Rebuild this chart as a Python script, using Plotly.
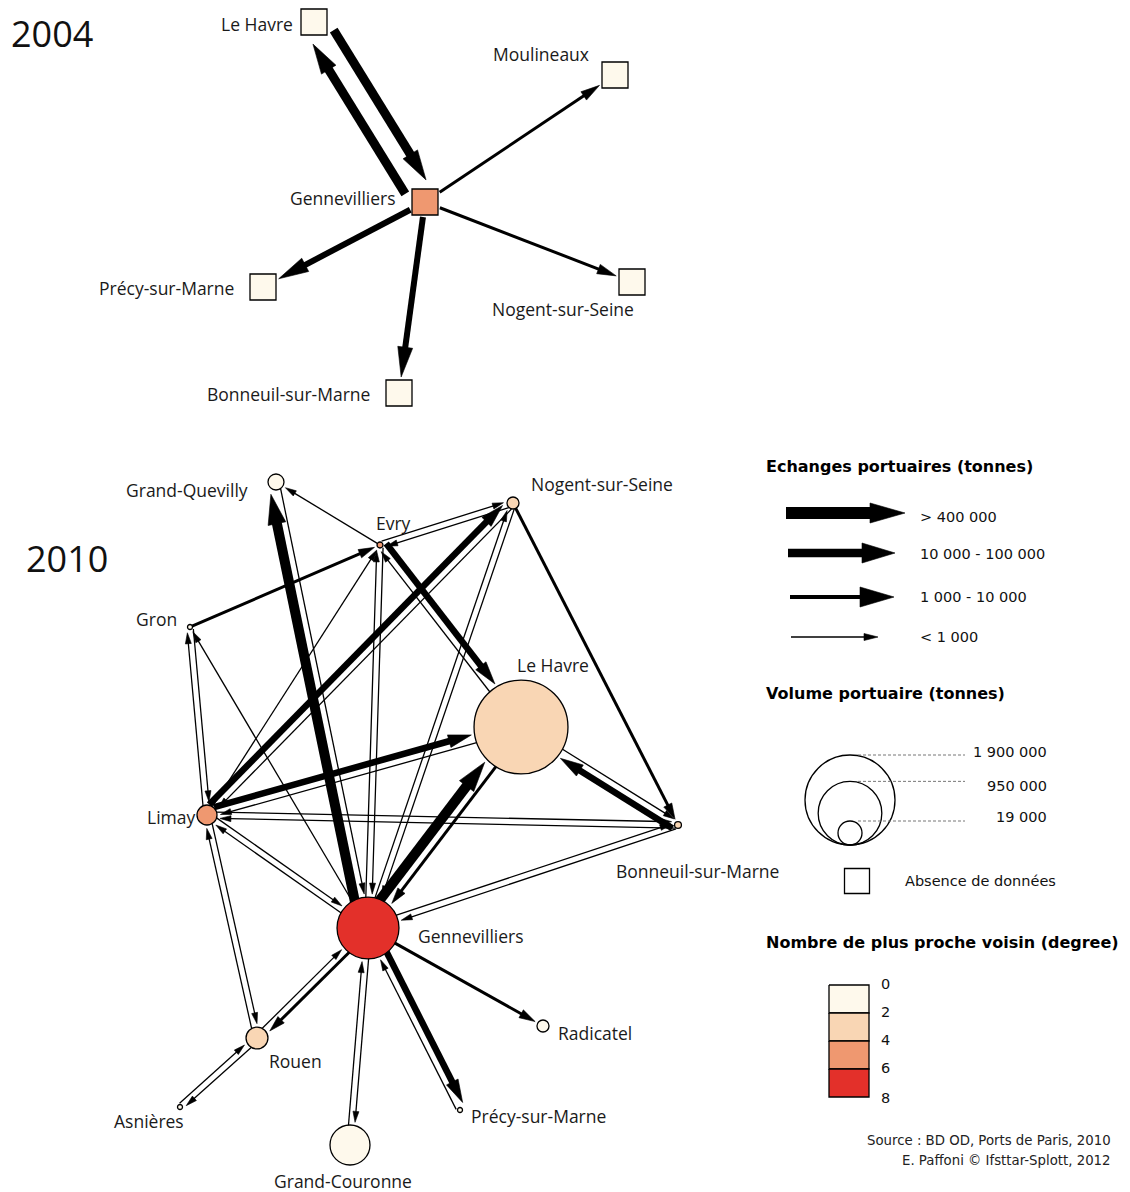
import math
import plotly.graph_objects as go

# ------------------------------------------------------------------ data
CLASS_LABELS = ["< 1 000", "1 000 - 10 000", "10 000 - 100 000", "> 400 000"]
DEGREE_BREAKS = [0, 2, 4, 6, 8]
DEGREE_COLORS = ["#fef9ec", "#f9d6b4", "#ef9870", "#e3302a"]
VOLUME_LEGEND = [1900000, 950000, 19000]
VOLUME_LEGEND_LABELS = ["1 900 000", "950 000", "19 000"]

# 2004 network (no volume data -> squares)
nodes04_name = ["Le Havre", "Moulineaux", "Gennevilliers", "Précy-sur-Marne",
                "Nogent-sur-Seine", "Bonneuil-sur-Marne"]
nodes04_x = [314, 615, 425, 263, 632, 399]
nodes04_y = [22, 75, 202, 287, 282, 393]
nodes04_degree = [1, 1, 5, 1, 1, 1]
edges04_src = ["Le Havre", "Gennevilliers", "Gennevilliers", "Gennevilliers",
               "Gennevilliers", "Gennevilliers"]
edges04_dst = ["Gennevilliers", "Le Havre", "Moulineaux", "Précy-sur-Marne",
               "Nogent-sur-Seine", "Bonneuil-sur-Marne"]
edges04_class = [3, 3, 1, 2, 1, 2]

# 2010 network
nodes10_name = ["Grand-Quevilly", "Nogent-sur-Seine", "Evry", "Gron", "Le Havre",
                "Limay", "Bonneuil-sur-Marne", "Gennevilliers", "Rouen",
                "Radicatel", "Asnières", "Précy-sur-Marne", "Grand-Couronne"]
nodes10_x = [276, 513, 380, 190, 521, 207, 678, 368, 257, 543, 180, 460, 350]
nodes10_y = [482, 503, 545, 627, 727, 815, 825, 928, 1038, 1026, 1107, 1110, 1145]
nodes10_volume = [60000, 34000, 8400, 5900, 2070000, 94000, 11000, 900000,
                  113000, 34000, 5900, 5900, 375000]
nodes10_degree = [1, 3, 5, 1, 3, 5, 3, 7, 3, 1, 1, 1, 1]

edges10_src = ["Gennevilliers", "Grand-Quevilly", "Evry", "Gron", "Evry",
               "Nogent-sur-Seine", "Evry", "Le Havre", "Limay", "Nogent-sur-Seine",
               "Gennevilliers", "Nogent-sur-Seine", "Nogent-sur-Seine", "Limay",
               "Gennevilliers", "Evry", "Gron", "Limay", "Gennevilliers", "Limay",
               "Le Havre", "Limay", "Bonneuil-sur-Marne", "Limay", "Gennevilliers",
               "Limay", "Rouen", "Gennevilliers", "Le Havre", "Le Havre",
               "Bonneuil-sur-Marne", "Gennevilliers", "Bonneuil-sur-Marne",
               "Gennevilliers", "Rouen", "Rouen", "Asnières", "Gennevilliers",
               "Grand-Couronne", "Gennevilliers", "Précy-sur-Marne", "Gennevilliers"]
edges10_dst = ["Grand-Quevilly", "Gennevilliers", "Grand-Quevilly", "Evry",
               "Nogent-sur-Seine", "Evry", "Le Havre", "Evry", "Nogent-sur-Seine",
               "Limay", "Nogent-sur-Seine", "Gennevilliers", "Bonneuil-sur-Marne",
               "Evry", "Evry", "Gennevilliers", "Limay", "Gron", "Gron", "Le Havre",
               "Limay", "Bonneuil-sur-Marne", "Limay", "Gennevilliers", "Limay",
               "Rouen", "Limay", "Le Havre", "Gennevilliers", "Bonneuil-sur-Marne",
               "Le Havre", "Bonneuil-sur-Marne", "Gennevilliers", "Rouen",
               "Gennevilliers", "Asnières", "Rouen", "Grand-Couronne",
               "Gennevilliers", "Précy-sur-Marne", "Gennevilliers", "Radicatel"]
edges10_class = [3, 0, 0, 1, 0, 0, 2, 0, 2, 0, 0, 0, 1, 0, 0, 0, 0, 0, 0, 2, 0,
                 0, 0, 0, 0, 0, 0, 3, 1, 0, 2, 0, 0, 1, 0, 0, 0, 0, 0, 2, 0, 1]

# ------------------------------------------------------------------ styles
W, H = 1130, 1192
MAP_STYLE = {0: (1.3, 6, 11), 1: (3, 9, 16), 2: (6.5, 13, 23), 3: (10, 18, 30)}
MAP04_STYLE = {0: (1.3, 6, 11), 1: (3, 10, 19), 2: (6, 15, 30), 3: (9, 17, 30)}
LEGEND_STYLE = {0: (1.5, 7, 14), 1: (4, 20, 34), 2: (8.5, 20, 33), 3: (12, 20, 35)}
LABEL_FONT = dict(family="Open Sans, Noto Sans, sans-serif", size=17.5, color="#1a1a1a")
LEG_FONT = dict(family="DejaVu Sans, Verdana, sans-serif", size=14.5, color="#111")
R_SCALE = 45 / math.sqrt(VOLUME_LEGEND[0])


def radius(v):
    return R_SCALE * math.sqrt(v)


def degree_color(d):
    for i in range(len(DEGREE_COLORS)):
        if d < DEGREE_BREAKS[i + 1] or i == len(DEGREE_COLORS) - 1:
            return DEGREE_COLORS[i]


def arrow(x0, y0, x1, y1, d0, d1, style, offset):
    w, hw, hl = style
    dx, dy = x1 - x0, y1 - y0
    L = math.hypot(dx, dy)
    ux, uy = dx / L, dy / L
    nx, ny = uy, -ux
    sx, sy = x0 + ux * d0 + nx * offset, y0 + uy * d0 + ny * offset
    tx, ty = x1 - ux * d1 + nx * offset, y1 - uy * d1 + ny * offset
    bx, by = tx - ux * hl, ty - uy * hl
    shaft = ([sx, bx + ux * 1.5], [sy, by + uy * 1.5])
    head = ([tx, bx + nx * hw / 2, bx - nx * hw / 2, tx],
            [ty, by + ny * hw / 2, by - ny * hw / 2, ty])
    return shaft, head


def add_arrows(fig, arrows_by_class, widths):
    hx, hy = [], []
    for c in sorted(arrows_by_class):
        xs, ys = [], []
        for shaft, head in arrows_by_class[c]:
            xs += shaft[0] + [None]
            ys += shaft[1] + [None]
            hx += head[0] + [None]
            hy += head[1] + [None]
        fig.add_trace(go.Scatter(x=xs, y=ys, mode="lines",
                                 line=dict(color="black", width=widths[c]),
                                 hoverinfo="skip", showlegend=False))
    fig.add_trace(go.Scatter(x=hx, y=hy, mode="lines", fill="toself",
                             fillcolor="black", line=dict(color="black", width=0.6),
                             hoverinfo="skip", showlegend=False))


def network_arrows(names, xs, ys, src, dst, cls, dist_fn, gap, styles):
    idx = {n: i for i, n in enumerate(names)}
    pairs = set(zip(src, dst))
    out = {}
    for s, t, c in zip(src, dst, cls):
        i, j = idx[s], idx[t]
        style = styles[c]
        off = style[0] / 2 + gap if (t, s) in pairs else 0
        dx, dy = xs[j] - xs[i], ys[j] - ys[i]
        L = math.hypot(dx, dy)
        u = (dx / L, dy / L)
        a = arrow(xs[i], ys[i], xs[j], ys[j], dist_fn(i, u, True), dist_fn(j, u, False),
                  style, off)
        out.setdefault(c, []).append(a)
    return out


fig = go.Figure()
annotations = []


def text(x, y, s, font, anchor="left", yanchor="middle"):
    annotations.append(dict(x=x, y=y, text=s, showarrow=False, xanchor=anchor,
                            yanchor=yanchor, font=font, xref="x", yref="y"))


# ------------------------------------------------------------------ 2004
SQ = 26


def sq_dist(i, u, start):
    return (SQ / 2) / max(abs(u[0]), abs(u[1])) + (2 if start else 3)


arr04 = network_arrows(nodes04_name, nodes04_x, nodes04_y, edges04_src, edges04_dst,
                       edges04_class, sq_dist, 8, MAP04_STYLE)
add_arrows(fig, arr04, {c: MAP04_STYLE[c][0] for c in MAP04_STYLE})
fig.add_trace(go.Scatter(
    x=nodes04_x, y=nodes04_y, mode="markers", hoverinfo="skip", showlegend=False,
    marker=dict(symbol="square", size=SQ, opacity=1,
                color=[degree_color(d) for d in nodes04_degree],
                line=dict(color="black", width=1.3))))

lab04 = {"Le Havre": (-19, 2, "right"), "Moulineaux": (-74, -21, "center"),
         "Gennevilliers": (-27, -4, "right"), "Précy-sur-Marne": (-27, 1, "right"),
         "Nogent-sur-Seine": (-69, 27, "center"), "Bonneuil-sur-Marne": (-27, 1, "right")}
for n, x, y in zip(nodes04_name, nodes04_x, nodes04_y):
    dx, dy, an = lab04[n]
    text(x + dx, y + dy, n, LABEL_FONT, an)

# ------------------------------------------------------------------ 2010
r10 = [radius(v) for v in nodes10_volume]


def circ_dist(i, u, start):
    return r10[i] * (0.9 if start else 1.0) + (0 if start else 3)


arr10 = network_arrows(nodes10_name, nodes10_x, nodes10_y, edges10_src, edges10_dst,
                       edges10_class, circ_dist, 2.5, MAP_STYLE)
add_arrows(fig, arr10, {c: MAP_STYLE[c][0] for c in MAP_STYLE})
fig.add_trace(go.Scatter(
    x=nodes10_x, y=nodes10_y, mode="markers", hoverinfo="skip", showlegend=False,
    marker=dict(symbol="circle", size=[2 * r for r in r10], opacity=1,
                color=[degree_color(d) for d in nodes10_degree],
                line=dict(color="black", width=1.3))))

lab10 = {"Grand-Quevilly": (-26, 8, "right"), "Nogent-sur-Seine": (16, -19, "left"),
         "Evry": (13, -22, "center"), "Gron": (-11, -8, "right"),
         "Le Havre": (32, -62, "center"), "Limay": (-10, 2, "right"),
         "Bonneuil-sur-Marne": (-64, 46, "left"), "Gennevilliers": (48, 8, "left"),
         "Rouen": (10, 23, "left"), "Radicatel": (13, 7, "left"),
         "Asnières": (-31, 14, "center"), "Précy-sur-Marne": (9, 6, "left"),
         "Grand-Couronne": (-7, 36, "center")}
for n, x, y in zip(nodes10_name, nodes10_x, nodes10_y):
    dx, dy, an = lab10[n]
    text(x + dx, y + dy, n, LABEL_FONT, an)

YEAR_FONT = dict(family="Open Sans, Noto Sans, sans-serif", size=36, color="#111")
text(9, 33, "2004", YEAR_FONT)
text(24, 558, "2010", YEAR_FONT)

# ------------------------------------------------------------------ legend
BOLD = dict(family="DejaVu Sans, Verdana, sans-serif", size=16, color="#000")
text(764, 466, "<b>Echanges portuaires (tonnes)</b>", BOLD)
leg_rows = [(3, 786, 905, 513, 517), (2, 788, 895, 553, 554),
            (1, 790, 894, 597, 597), (0, 791, 878, 637, 637)]
leg_arrows = {}
for c, xs_, xt, ya, yt in leg_rows:
    leg_arrows.setdefault(c, []).append(arrow(xs_, ya, xt, ya, 0, 0, LEGEND_STYLE[c], 0))
    text(918, yt, CLASS_LABELS[c], LEG_FONT)
add_arrows(fig, leg_arrows, {c: LEGEND_STYLE[c][0] for c in LEGEND_STYLE})

text(764, 693, "<b>Volume portuaire (tonnes)</b>", BOLD)
base_y, cx = 845, 850
lab_y = [752, 786, 817]
for v, lbl, ly in zip(VOLUME_LEGEND, VOLUME_LEGEND_LABELS, lab_y):
    r = max(radius(v), 12)
    fig.add_trace(go.Scatter(
        x=[cx], y=[base_y - r], mode="markers", hoverinfo="skip", showlegend=False,
        marker=dict(size=2 * r, opacity=1, color="rgba(0,0,0,0)",
                    line=dict(color="black", width=1.3))))
    fig.add_trace(go.Scatter(
        x=[cx + 8, 965], y=[base_y - 2 * r, base_y - 2 * r], mode="lines",
        hoverinfo="skip", showlegend=False,
        line=dict(color="#777", width=1, dash="3px,2px")))
    text(1049, ly, lbl, LEG_FONT, "right")

fig.add_trace(go.Scatter(
    x=[857], y=[881], mode="markers", hoverinfo="skip", showlegend=False,
    marker=dict(symbol="square", size=25, opacity=1, color="white",
                line=dict(color="black", width=1.3))))
text(903, 881, "Absence de données", LEG_FONT)

text(764, 942, "<b>Nombre de plus proche voisin (degree)</b>", BOLD)
box_top, box_h = 985, 28
for i, col in enumerate(DEGREE_COLORS):
    y0, y1 = box_top + i * box_h, box_top + (i + 1) * box_h
    fig.add_trace(go.Scatter(
        x=[829, 869, 869, 829, 829], y=[y0, y0, y1, y1, y0], mode="lines",
        fill="toself", fillcolor=col, line=dict(color="black", width=1.3),
        hoverinfo="skip", showlegend=False))
for i, b in enumerate(DEGREE_BREAKS):
    text(879, box_top + i * box_h - 1 + (2 if i == len(DEGREE_BREAKS) - 1 else 0),
         str(b), LEG_FONT)

SRC_FONT = dict(family="DejaVu Sans, Verdana, sans-serif", size=13.3, color="#222")
text(1113, 1140, "Source : BD OD, Ports de Paris, 2010", SRC_FONT, "right")
text(1113, 1160, "E. Paffoni © Ifsttar-Splott, 2012", SRC_FONT, "right")

# ------------------------------------------------------------------ layout
fig.update_layout(
    width=W, height=H, margin=dict(l=0, r=0, t=0, b=0),
    paper_bgcolor="white", plot_bgcolor="white",
    xaxis=dict(range=[0, W], visible=False, fixedrange=True),
    yaxis=dict(range=[H, 0], visible=False, fixedrange=True),
    annotations=annotations, showlegend=False,
)
fig.write_html("out.html", config={"displayModeBar": False},
               post_script="document.body.style.margin='0px';document.body.style.overflow='hidden';")
